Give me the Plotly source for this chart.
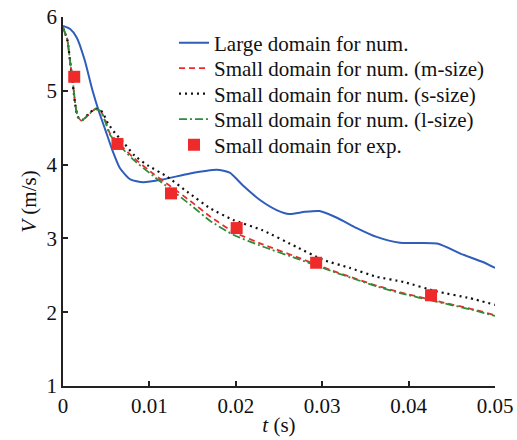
import plotly.graph_objects as go

# Time (s) and velocity (m/s) for each case
t_large = [0.0, 0.0008, 0.0016, 0.0025, 0.0034, 0.0041, 0.0049, 0.0057, 0.0066, 0.0078, 0.0093,
           0.0116, 0.0147, 0.0178, 0.0193, 0.0208, 0.0228, 0.0248, 0.0262, 0.0280, 0.0297,
           0.0317, 0.0340, 0.0363, 0.0390, 0.0433, 0.0463, 0.0486, 0.0500]
v_large = [5.88, 5.84, 5.72, 5.42, 5.01, 4.74, 4.47, 4.20, 3.95, 3.80, 3.76,
           3.80, 3.88, 3.93, 3.89, 3.72, 3.52, 3.38, 3.33, 3.36, 3.37,
           3.28, 3.14, 3.02, 2.94, 2.93, 2.78, 2.68, 2.60]

t_m = [0.0, 0.0005, 0.0007, 0.0009, 0.0012, 0.0014, 0.0017, 0.0022, 0.0029, 0.0037,
       0.0043, 0.0049, 0.0054, 0.0063, 0.0081, 0.0104, 0.0124, 0.0147, 0.0170, 0.0197,
       0.0231, 0.0270, 0.0310, 0.0340, 0.0363, 0.0390, 0.0433, 0.0471, 0.0500]
v_m = [5.85, 5.69, 5.51, 5.32, 5.05, 4.83, 4.65, 4.59, 4.67, 4.75,
       4.74, 4.60, 4.43, 4.31, 4.10, 3.88, 3.71, 3.51, 3.30, 3.09,
       2.92, 2.75, 2.57, 2.45, 2.36, 2.27, 2.15, 2.05, 1.96]

t_s = [0.0, 0.0005, 0.0009, 0.0014, 0.0017, 0.0022, 0.0029, 0.0037, 0.0045, 0.0052,
       0.0060, 0.0070, 0.0083, 0.0098, 0.0120, 0.0144, 0.0170, 0.0197, 0.0231, 0.0271,
       0.0301, 0.0332, 0.0363, 0.0394, 0.0433, 0.0471, 0.0500]
v_s = [5.85, 5.69, 5.32, 4.83, 4.65, 4.60, 4.68, 4.76, 4.72, 4.56,
       4.43, 4.30, 4.12, 3.99, 3.84, 3.63, 3.41, 3.25, 3.11, 2.88,
       2.71, 2.60, 2.48, 2.41, 2.28, 2.19, 2.10]

t_l = [0.0, 0.0005, 0.0007, 0.0009, 0.0012, 0.0014, 0.0017, 0.0022, 0.0029, 0.0037,
       0.0043, 0.0049, 0.0054, 0.0063, 0.0081, 0.0104, 0.0124, 0.0147, 0.0170, 0.0197,
       0.0231, 0.0270, 0.0310, 0.0340, 0.0363, 0.0390, 0.0433, 0.0471, 0.0500]
v_l = [5.86, 5.70, 5.52, 5.33, 5.06, 4.84, 4.65, 4.60, 4.67, 4.75,
       4.73, 4.58, 4.41, 4.29, 4.07, 3.85, 3.67, 3.46, 3.24, 3.05,
       2.89, 2.73, 2.56, 2.44, 2.35, 2.26, 2.14, 2.04, 1.95]

t_exp = [0.0013, 0.0063, 0.0125, 0.0201, 0.0293, 0.0426]
v_exp = [5.19, 4.28, 3.61, 3.14, 2.67, 2.23]

x_ticks = [0, 0.01, 0.02, 0.03, 0.04, 0.05]
x_tick_text = ["0", "0.01", "0.02", "0.03", "0.04", "0.05"]
y_ticks = [1, 2, 3, 4, 5, 6]

serif = "Liberation Serif"
ink = "#111111"
W, H = 517, 440
M_L, M_R, M_T, M_B = 63, 22, 17, 54
PW, PH = W - M_L - M_R, H - M_T - M_B

fig = go.Figure()
fig.add_trace(go.Scatter(x=t_large, y=v_large, mode="lines", name="Large domain for num.",
                         legend="legend",
                         line=dict(color="#2F5DBA", width=2, shape="spline", smoothing=0.6)))
fig.add_trace(go.Scatter(x=t_m, y=v_m, mode="lines", name="Small domain for num. (m-size)",
                         legend="legend2",
                         line=dict(color="#EE2B2B", width=1.8, dash="6px,4px", shape="spline", smoothing=0.5)))
fig.add_trace(go.Scatter(x=t_s, y=v_s, mode="lines", name="Small domain for num. (s-size)",
                         legend="legend3",
                         line=dict(color=ink, width=2.2, dash="2px,4px", shape="spline", smoothing=0.5)))
fig.add_trace(go.Scatter(x=t_l, y=v_l, mode="lines", name="Small domain for num. (l-size)",
                         legend="legend4",
                         line=dict(color="#2E8B3A", width=1.8, dash="8px,3px,2px,3px", shape="spline", smoothing=0.5)))
fig.add_trace(go.Scatter(x=t_exp, y=v_exp, mode="markers", name="Small domain for exp.",
                         legend="legend5",
                         marker=dict(symbol="square", size=12, color="#EE2A2A",
                                     line=dict(width=0))))

axis_common = dict(showline=True, linecolor="#222222", linewidth=1.5, ticks="inside",
                   ticklen=5, tickwidth=1.5, tickcolor="#222222", showgrid=False,
                   zeroline=False, automargin=False,
                   tickfont=dict(family=serif, size=21, color=ink))

fig.update_xaxes(range=[0, 0.05], tickvals=x_ticks, ticktext=x_tick_text,
                 title=dict(text="<i>t</i> (s)", font=dict(family=serif, size=21, color=ink),
                            standoff=0),
                 **axis_common)
fig.update_yaxes(range=[1, 6], tickvals=y_ticks,
                 title=dict(text="<i>V</i> (m/s)", font=dict(family=serif, size=21, color=ink),
                            standoff=4),
                 **axis_common)

# One legend box per entry so the rows sit with a tight, even spacing
row_centres = [43, 68.5, 94, 119.5, 145]
legend_boxes = {}
for i, yc in enumerate(row_centres):
    key = "legend" if i == 0 else f"legend{i + 1}"
    legend_boxes[key] = dict(
        x=(174 - M_L) / PW, y=1 - (yc - M_T) / PH,
        xanchor="left", yanchor="middle", bgcolor="rgba(0,0,0,0)",
        font=dict(family=serif, size=21, color=ink), itemwidth=30,
    )

fig.update_layout(
    width=W, height=H,
    margin=dict(l=M_L, r=M_R, t=M_T, b=M_B),
    plot_bgcolor="white", paper_bgcolor="white",
    font=dict(family=serif, size=21, color=ink),
    showlegend=True,
    **legend_boxes,
)

fig.write_html("out.html")
